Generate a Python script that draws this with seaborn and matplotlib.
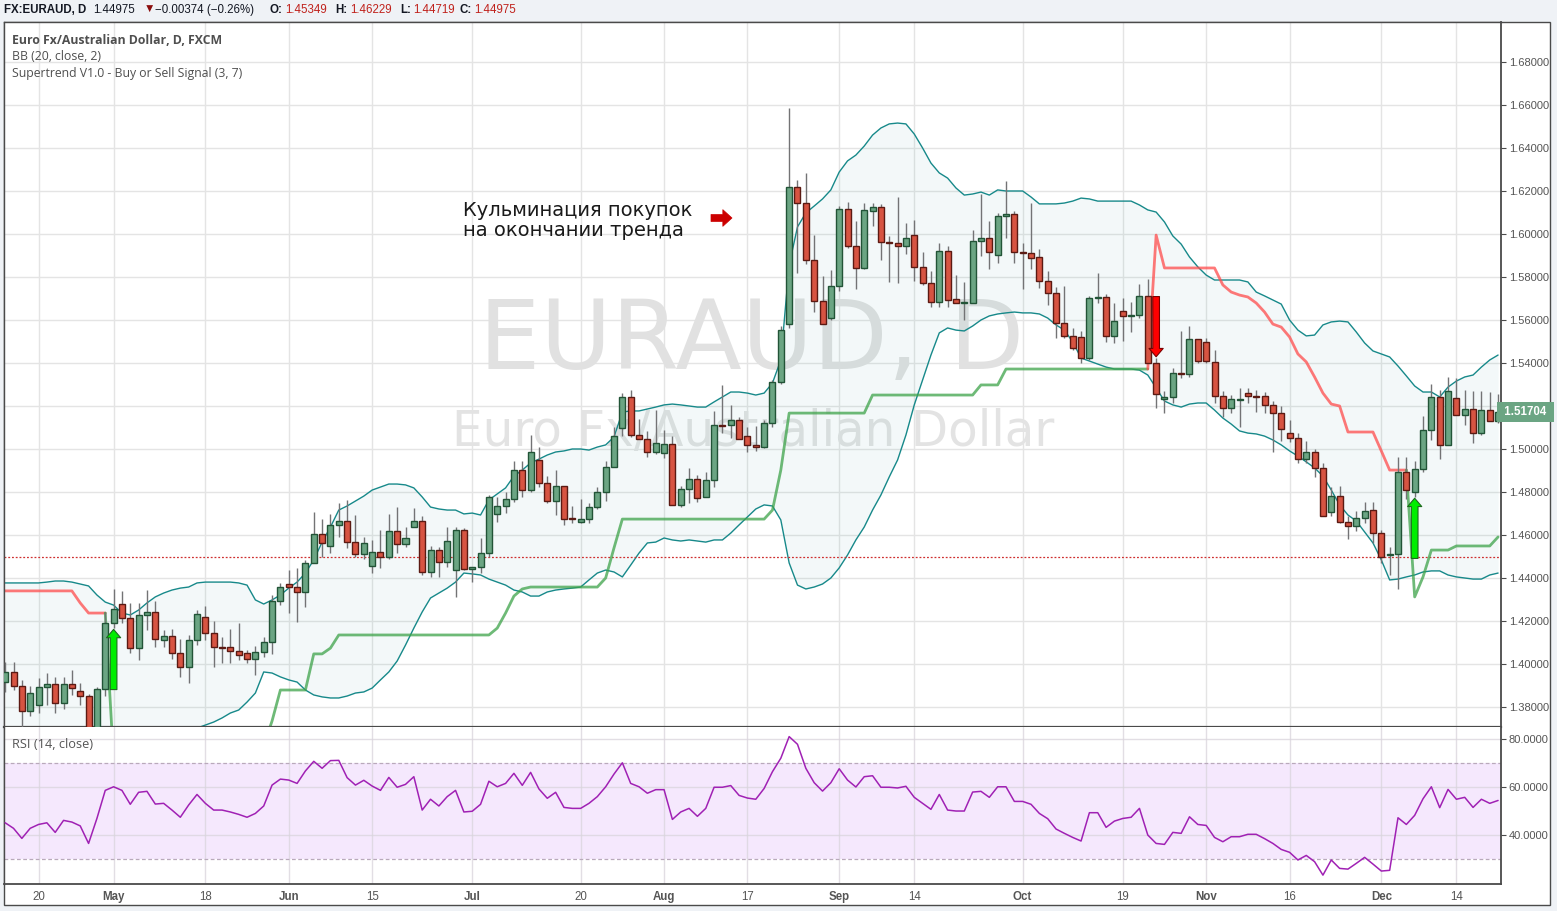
import matplotlib
matplotlib.use("Agg")
import matplotlib.pyplot as plt
import matplotlib.transforms as mtransforms
from matplotlib.patches import Rectangle, FancyArrowPatch
import numpy as np
import pandas as pd
import seaborn as sns

W, H = 1557, 911

# ---------------------------------------------------------------- data
# one daily bar per weekday, 14 Apr 2015 .. 21 Dec 2015 (bar index 0..179)
tick_idx = [4, 13, 24, 34, 44, 56, 69, 79, 89, 100, 109, 122, 134, 144, 154, 165, 174]
tick_labels = ["20", "May", "18", "Jun", "15", "Jul", "20", "Aug", "17", "Sep",
               "14", "Oct", "19", "Nov", "16", "Dec", "14"]
month_labels = ["May", "Jun", "Jul", "Aug", "Sep", "Oct", "Nov", "Dec"]

open_ = [
    1.3916, 1.3963, 1.3898, 1.3781, 1.3809, 1.3893, 1.3907, 1.3819, 1.3907, 1.3874,
    1.3851, 1.3660, 1.3884, 1.4191, 1.4279, 1.4214, 1.4074, 1.4228, 1.4242, 1.4112,
    1.4130, 1.4051, 1.3986, 1.4112, 1.4219, 1.4144, 1.4079, 1.4079, 1.4060, 1.4051,
    1.4023, 1.4056, 1.4102, 1.4293, 1.4372, 1.4358, 1.4335, 1.4470, 1.4605, 1.4549,
    1.4647, 1.4665, 1.4567, 1.4512, 1.4456, 1.4521, 1.4498, 1.4619, 1.4558, 1.4637,
    1.4665, 1.4428, 1.4530, 1.4474, 1.4437, 1.4623, 1.4442, 1.4451, 1.4516, 1.4698,
    1.4735, 1.4767, 1.4902, 1.4809, 1.4949, 1.4842, 1.4758, 1.4828, 1.4679, 1.4660,
    1.4674, 1.4730, 1.4800, 1.4916, 1.5098, 1.5242, 1.5065, 1.5047, 1.4986, 1.4981,
    1.5023, 1.4740, 1.4814, 1.4860, 1.4777, 1.4856, 1.5112, 1.5112, 1.5135, 1.5060,
    1.5019, 1.5009, 1.5121, 1.5312, 1.5581, 1.6219, 1.6144, 1.5879, 1.5688, 1.5609,
    1.5758, 1.6116, 1.5944, 1.5842, 1.6107, 1.6126, 1.5963, 1.5958, 1.5944, 1.5995,
    1.5847, 1.5772, 1.5684, 1.5921, 1.5698, 1.5679, 1.5679, 1.5967, 1.5981, 1.5902,
    1.6084, 1.6093, 1.5916, 1.5912, 1.5893, 1.5781, 1.5726, 1.5586, 1.5526, 1.5521,
    1.5423, 1.5702, 1.5707, 1.5526, 1.5642, 1.5619, 1.5623, 1.5712, 1.5400, 1.5233,
    1.5242, 1.5353, 1.5349, 1.5512, 1.5498, 1.5405, 1.5247, 1.5191, 1.5228, 1.5260,
    1.5247, 1.5247, 1.5205, 1.5167, 1.5074, 1.5051, 1.4953, 1.4986, 1.4912, 1.4707,
    1.4781, 1.4660, 1.4642, 1.4679, 1.4716, 1.4609, 1.4507, 1.4512, 1.4893, 1.4800,
    1.4907, 1.5088, 1.5242, 1.5019, 1.5237, 1.5158, 1.5186, 1.5074, 1.5181, 1.5130,
]
high = [
    1.4009, 1.4009, 1.3926, 1.3898, 1.3935, 1.3958, 1.3940, 1.3940, 1.3972, 1.3912,
    1.3860, 1.3893, 1.4242, 1.4349, 1.4340, 1.4284, 1.4284, 1.4344, 1.4293, 1.4158,
    1.4163, 1.4116, 1.4135, 1.4251, 1.4270, 1.4200, 1.4126, 1.4163, 1.4191, 1.4065,
    1.4084, 1.4126, 1.4321, 1.4377, 1.4437, 1.4446, 1.4484, 1.4707, 1.4674, 1.4698,
    1.4749, 1.4763, 1.4693, 1.4591, 1.4577, 1.4623, 1.4698, 1.4730, 1.4637, 1.4726,
    1.4688, 1.4549, 1.4544, 1.4637, 1.4637, 1.4633, 1.4451, 1.4586, 1.4786, 1.4777,
    1.4800, 1.4944, 1.4944, 1.5065, 1.5009, 1.4874, 1.4902, 1.4828, 1.4735, 1.4767,
    1.4749, 1.4823, 1.4944, 1.5102, 1.5260, 1.5274, 1.5140, 1.5084, 1.5181, 1.5088,
    1.5060, 1.4828, 1.4912, 1.4879, 1.4893, 1.5177, 1.5298, 1.5205, 1.5149, 1.5102,
    1.5107, 1.5135, 1.5321, 1.5572, 1.6586, 1.6251, 1.6284, 1.5995, 1.5805, 1.5833,
    1.6130, 1.6149, 1.6060, 1.6144, 1.6144, 1.6140, 1.5991, 1.6172, 1.6051, 1.6065,
    1.5916, 1.5828, 1.5958, 1.5944, 1.5809, 1.5777, 1.6019, 1.6186, 1.6060, 1.6098,
    1.6247, 1.6107, 1.5958, 1.6144, 1.5930, 1.5828, 1.5753, 1.5758, 1.5563, 1.5549,
    1.5712, 1.5819, 1.5721, 1.5679, 1.5702, 1.5684, 1.5767, 1.5791, 1.5423, 1.5270,
    1.5377, 1.5549, 1.5572, 1.5512, 1.5516, 1.5460, 1.5270, 1.5251, 1.5284, 1.5284,
    1.5274, 1.5265, 1.5223, 1.5200, 1.5135, 1.5074, 1.5037, 1.5000, 1.4935, 1.4823,
    1.4828, 1.4688, 1.4712, 1.4753, 1.4753, 1.4623, 1.4544, 1.4963, 1.4963, 1.4944,
    1.5153, 1.5302, 1.5274, 1.5335, 1.5330, 1.5274, 1.5270, 1.5270, 1.5265, 1.5256,
]
low = [
    1.3870, 1.3879, 1.3705, 1.3758, 1.3772, 1.3809, 1.3772, 1.3791, 1.3856, 1.3809,
    1.3600, 1.3620, 1.3851, 1.4167, 1.4191, 1.4051, 1.4019, 1.4158, 1.4079, 1.4079,
    1.4023, 1.3940, 1.3912, 1.4088, 1.4112, 1.3986, 1.4005, 1.4005, 1.4019, 1.4005,
    1.3949, 1.4033, 1.4047, 1.4274, 1.4237, 1.4195, 1.4265, 1.4470, 1.4498, 1.4516,
    1.4591, 1.4540, 1.4498, 1.4488, 1.4423, 1.4447, 1.4488, 1.4516, 1.4544, 1.4637,
    1.4414, 1.4405, 1.4405, 1.4451, 1.4312, 1.4437, 1.4381, 1.4423, 1.4498, 1.4660,
    1.4702, 1.4753, 1.4777, 1.4800, 1.4823, 1.4749, 1.4693, 1.4647, 1.4656, 1.4656,
    1.4656, 1.4721, 1.4758, 1.4916, 1.5060, 1.5056, 1.5047, 1.4963, 1.4977, 1.4958,
    1.4740, 1.4730, 1.4749, 1.4753, 1.4777, 1.4823, 1.5074, 1.5051, 1.5047, 1.4986,
    1.4991, 1.5005, 1.5102, 1.5302, 1.5563, 1.5819, 1.5860, 1.5637, 1.5581, 1.5600,
    1.5735, 1.5935, 1.5744, 1.5837, 1.6037, 1.5879, 1.5777, 1.5772, 1.5907, 1.5781,
    1.5763, 1.5660, 1.5660, 1.5660, 1.5679, 1.5600, 1.5679, 1.5898, 1.5837, 1.5865,
    1.5981, 1.5865, 1.5744, 1.5837, 1.5749, 1.5670, 1.5516, 1.5516, 1.5460, 1.5400,
    1.5414, 1.5679, 1.5498, 1.5493, 1.5502, 1.5544, 1.5609, 1.5400, 1.5191, 1.5167,
    1.5214, 1.5330, 1.5335, 1.5400, 1.5400, 1.5214, 1.5149, 1.5167, 1.5100, 1.5214,
    1.5172, 1.5167, 1.4986, 1.5037, 1.5033, 1.4935, 1.4935, 1.4870, 1.4688, 1.4688,
    1.4656, 1.4581, 1.4619, 1.4656, 1.4563, 1.4472, 1.4414, 1.4349, 1.4767, 1.4777,
    1.4893, 1.5042, 1.4953, 1.5019, 1.5158, 1.5112, 1.5028, 1.5065, 1.5130, 1.5121,
]
close = [
    1.3963, 1.3898, 1.3781, 1.3865, 1.3893, 1.3907, 1.3819, 1.3907, 1.3888, 1.3851,
    1.3650, 1.3884, 1.4191, 1.4256, 1.4214, 1.4074, 1.4228, 1.4242, 1.4116, 1.4130,
    1.4051, 1.3986, 1.4112, 1.4233, 1.4144, 1.4079, 1.4074, 1.4060, 1.4042, 1.4023,
    1.4056, 1.4102, 1.4293, 1.4358, 1.4358, 1.4335, 1.4470, 1.4605, 1.4563, 1.4647,
    1.4665, 1.4567, 1.4512, 1.4563, 1.4521, 1.4498, 1.4619, 1.4558, 1.4586, 1.4665,
    1.4428, 1.4530, 1.4474, 1.4572, 1.4623, 1.4442, 1.4451, 1.4516, 1.4777, 1.4735,
    1.4767, 1.4902, 1.4809, 1.4986, 1.4842, 1.4758, 1.4828, 1.4674, 1.4674, 1.4674,
    1.4730, 1.4800, 1.4916, 1.5060, 1.5242, 1.5065, 1.5047, 1.4986, 1.5028, 1.5023,
    1.4740, 1.4814, 1.4860, 1.4772, 1.4856, 1.5112, 1.5107, 1.5135, 1.5047, 1.5019,
    1.5009, 1.5121, 1.5312, 1.5553, 1.6219, 1.6144, 1.5879, 1.5688, 1.5581, 1.5758,
    1.6116, 1.5944, 1.5842, 1.6112, 1.6126, 1.5963, 1.5958, 1.5944, 1.5981, 1.5847,
    1.5772, 1.5684, 1.5921, 1.5693, 1.5679, 1.5684, 1.5967, 1.5981, 1.5916, 1.6084,
    1.6093, 1.5916, 1.5912, 1.5888, 1.5781, 1.5726, 1.5586, 1.5526, 1.5470, 1.5423,
    1.5702, 1.5707, 1.5526, 1.5595, 1.5619, 1.5623, 1.5712, 1.5400, 1.5256, 1.5242,
    1.5353, 1.5349, 1.5512, 1.5409, 1.5409, 1.5247, 1.5191, 1.5233, 1.5233, 1.5247,
    1.5242, 1.5205, 1.5167, 1.5093, 1.5051, 1.4953, 1.4986, 1.4912, 1.4688, 1.4781,
    1.4660, 1.4642, 1.4679, 1.4712, 1.4609, 1.44975, 1.4512, 1.4893, 1.4809, 1.4907,
    1.5088, 1.5242, 1.5019, 1.5270, 1.5158, 1.5186, 1.5074, 1.5181, 1.5130, 1.51704,
]

# Bollinger Bands (20, close, 2) as drawn
bb_upper = [
    1.4377, 1.4377, 1.4377, 1.4377, 1.4377, 1.4381, 1.4386, 1.4386, 1.4381, 1.4372,
    1.4363, 1.4321, 1.4288, 1.4274, 1.4237, 1.4228, 1.4251, 1.4284, 1.4312, 1.4330,
    1.4344, 1.4353, 1.4358, 1.4377, 1.4381, 1.4381, 1.4381, 1.4381, 1.4377, 1.4367,
    1.4298, 1.4279, 1.4298, 1.4321, 1.4353, 1.4381, 1.4423, 1.4484, 1.4567, 1.4637,
    1.4716, 1.4735, 1.4758, 1.4781, 1.4809, 1.4823, 1.4837, 1.4837, 1.4833, 1.4819,
    1.4777, 1.4730, 1.4721, 1.4716, 1.4716, 1.4698, 1.4702, 1.4693, 1.4763, 1.4791,
    1.4819, 1.4874, 1.4902, 1.4935, 1.4953, 1.4972, 1.4986, 1.4991, 1.5000, 1.5000,
    1.4995, 1.5009, 1.5019, 1.5056, 1.5172, 1.5177, 1.5177, 1.5186, 1.5195, 1.5205,
    1.5209, 1.5205, 1.5200, 1.5195, 1.5195, 1.5219, 1.5242, 1.5265, 1.5265, 1.5260,
    1.5251, 1.5260, 1.5307, 1.5414, 1.5856, 1.6033, 1.6098, 1.6130, 1.6163, 1.6205,
    1.6288, 1.6340, 1.6367, 1.6409, 1.6460, 1.6493, 1.6512, 1.6516, 1.6512, 1.6465,
    1.6400, 1.6330, 1.6284, 1.6260, 1.6214, 1.6181, 1.6186, 1.6195, 1.6181, 1.6205,
    1.6200, 1.6200, 1.6200, 1.6172, 1.6140, 1.6140, 1.6140, 1.6144, 1.6153, 1.6167,
    1.6163, 1.6153, 1.6153, 1.6153, 1.6153, 1.6153, 1.6135, 1.6112, 1.6102, 1.6056,
    1.5991, 1.5953, 1.5893, 1.5847, 1.5809, 1.5786, 1.5786, 1.5786, 1.5786, 1.5777,
    1.5730, 1.5712, 1.5693, 1.5674, 1.5600, 1.5553, 1.5526, 1.5530, 1.5577, 1.5591,
    1.5595, 1.5591, 1.5544, 1.5493, 1.5456, 1.5442, 1.5428, 1.5386, 1.5340, 1.5293,
    1.5265, 1.5265, 1.5242, 1.5288, 1.5316, 1.5335, 1.5344, 1.5381, 1.5414, 1.5437,
]
bb_lower = [
    1.3620, 1.3610, 1.3590, 1.3570, 1.3560, 1.3550, 1.3545, 1.3540, 1.3540, 1.3530,
    1.3490, 1.3470, 1.3480, 1.3500, 1.3530, 1.3560, 1.3580, 1.3600, 1.3620, 1.3640,
    1.3660, 1.3670, 1.3690, 1.3702, 1.3716, 1.3730, 1.3749, 1.3772, 1.3786, 1.3823,
    1.3865, 1.3963, 1.3958, 1.3940, 1.3926, 1.3916, 1.3879, 1.3856, 1.3847, 1.3842,
    1.3842, 1.3851, 1.3865, 1.3870, 1.3888, 1.3926, 1.3963, 1.4014, 1.4088, 1.4167,
    1.4242, 1.4307, 1.4330, 1.4353, 1.4381, 1.4423, 1.4419, 1.4414, 1.4395, 1.4381,
    1.4367, 1.4344, 1.4335, 1.4316, 1.4316, 1.4335, 1.4344, 1.4349, 1.4353, 1.4358,
    1.4391, 1.4423, 1.4437, 1.4428, 1.4405, 1.4460, 1.4516, 1.4563, 1.4567, 1.4586,
    1.4577, 1.4572, 1.4577, 1.4572, 1.4567, 1.4577, 1.4577, 1.4609, 1.4647, 1.4684,
    1.4721, 1.4740, 1.4735, 1.4670, 1.4470, 1.4367, 1.4349, 1.4358, 1.4372, 1.4400,
    1.4447, 1.4507, 1.4577, 1.4637, 1.4716, 1.4786, 1.4870, 1.4949, 1.5065, 1.5205,
    1.5321, 1.5437, 1.5540, 1.5563, 1.5553, 1.5549, 1.5572, 1.5600, 1.5619, 1.5628,
    1.5633, 1.5637, 1.5633, 1.5633, 1.5628, 1.5609, 1.5577, 1.5553, 1.5498, 1.5423,
    1.5409, 1.5395, 1.5381, 1.5372, 1.5372, 1.5372, 1.5367, 1.5344, 1.5284, 1.5223,
    1.5205, 1.5195, 1.5209, 1.5214, 1.5214, 1.5181, 1.5144, 1.5116, 1.5084, 1.5074,
    1.5070, 1.5060, 1.5042, 1.5019, 1.4991, 1.4967, 1.4940, 1.4912, 1.4874, 1.4809,
    1.4740, 1.4693, 1.4665, 1.4614, 1.4563, 1.4484, 1.4391, 1.4395, 1.4405, 1.4414,
    1.4428, 1.4433, 1.4433, 1.4414, 1.4405, 1.4400, 1.4395, 1.4395, 1.4414, 1.4423,
]

# Supertrend (3, 7): stop level and direction (1 = up / green, -1 = down / red)
st_value = (
    [1.4340] * 9 + [1.4284] + [1.4237] * 3
    + [1.3550] * 6 + [1.3570] * 7 + [1.3590] * 5 + [1.3620, 1.3735]
    + [1.3879] * 4 + [1.4047] * 2 + [1.4074] + [1.4135] * 19
    + [1.4167, 1.4237, 1.4316, 1.4349] + [1.4358] * 9 + [1.4400, 1.4540]
    + [1.4674] * 18 + [1.4716, 1.4902] + [1.5167] * 10 + [1.5251] * 13
    + [1.5298] * 3 + [1.5372] * 18
    + [1.5995] + [1.5842] * 7
    + [1.5763, 1.5730, 1.5716, 1.5707, 1.5679, 1.5637, 1.5581, 1.5567,
       1.5521, 1.5442, 1.5405, 1.5335, 1.5260, 1.5209, 1.5200]
    + [1.5079] * 4 + [1.4991] + [1.4902] * 3
    + [1.4312, 1.4405] + [1.4530] * 3 + [1.4549] * 5 + [1.4591]
)
st_dir = [-1] * 13 + [1] * 125 + [-1] * 31 + [1] * 11
buy_signals = [13, 169]
sell_signals = [138]

# RSI (14, close)
rsi = [
    45.1, 42.8, 38.6, 42.8, 44.4, 45.1, 41.1, 46.1, 45.4, 43.8,
    36.5, 46.9, 58.6, 60.1, 58.6, 52.8, 57.8, 58.2, 52.9, 53.2,
    50.4, 47.4, 52.5, 56.9, 53.2, 50.4, 50.4, 49.6, 48.6, 47.4,
    49.0, 52.1, 60.8, 63.3, 62.9, 61.5, 66.7, 70.7, 67.8, 71.0,
    71.1, 63.9, 60.8, 62.8, 60.4, 58.6, 64.0, 59.9, 61.1, 64.3,
    50.4, 54.9, 52.1, 56.0, 58.6, 49.6, 49.9, 52.8, 62.4, 60.1,
    61.5, 65.7, 60.7, 66.1, 59.2, 55.3, 57.8, 51.5, 51.1, 51.1,
    53.2, 56.0, 60.1, 65.4, 70.1, 61.5, 60.1, 57.4, 58.9, 58.9,
    46.5, 49.6, 51.1, 47.8, 51.1, 59.9, 59.9, 60.6, 56.5, 55.4,
    54.9, 59.4, 66.4, 72.0, 81.0, 77.8, 67.8, 61.8, 58.3, 61.8,
    67.6, 62.9, 60.0, 64.3, 64.7, 59.9, 59.9, 59.6, 60.3, 55.7,
    53.2, 50.7, 56.9, 50.4, 50.0, 50.0, 57.9, 58.2, 55.7, 60.1,
    60.1, 54.0, 54.0, 52.8, 49.0, 46.8, 42.5, 40.7, 39.0, 37.5,
    49.3, 49.3, 43.2, 45.8, 46.9, 47.4, 51.1, 40.0, 36.5, 36.1,
    41.1, 40.7, 47.6, 44.4, 44.0, 39.0, 37.2, 39.3, 39.3, 40.3,
    40.3, 38.5, 36.5, 34.0, 32.8, 29.6, 31.5, 28.9, 23.3, 29.6,
    26.1, 25.8, 28.2, 30.7, 27.9, 25.0, 25.3, 47.2, 44.4, 48.2,
    55.1, 60.1, 51.4, 59.0, 54.9, 55.7, 51.5, 54.9, 53.2, 54.4,
]

price_ticks = [1.38, 1.40, 1.42, 1.44, 1.46, 1.48, 1.50, 1.52, 1.54,
               1.56, 1.58, 1.60, 1.62, 1.64, 1.66, 1.68]
rsi_ticks = [40, 60, 80]
rsi_bands = [30, 70]
last_price = 1.51704
marker_price = 1.44975

header_pieces = [
    ("FX:EURAUD, D", "#131722", "bold", 4),
    ("1.44975", "#131722", "normal", 93),
    ("\u25bc", "#8b0d0d", "normal", 144),
    ("\u22120.00374 (\u22120.26%)", "#131722", "normal", 155),
    ("O:", "#131722", "bold", 270),
    ("1.45349", "#c0221c", "normal", 285),
    ("H:", "#131722", "bold", 335),
    ("1.46229", "#c0221c", "normal", 350),
    ("L:", "#131722", "bold", 400),
    ("1.44719", "#c0221c", "normal", 413),
    ("C:", "#131722", "bold", 460),
    ("1.44975", "#c0221c", "normal", 474),
]
legend_lines = ["Euro Fx/Australian Dollar, D, FXCM", "BB (20, close, 2)",
                "Supertrend V1.0 - Buy or Sell Signal (3, 7)"]
note_lines = ["Кульминация покупок", "на окончании тренда"]

# ---------------------------------------------------------------- style
UP, UP_EDGE = "#6ba583", "#225437"
DN, DN_EDGE = "#d75442", "#5b1a13"
WICK = "#737375"
BB_COL = "#17898a"
GRID = "#e4e4e4"
AXIS = "#4a4a4a"
BG = "#eff2f6"

sns.set_theme(style="white")
plt.rcParams["font.family"] = ["Liberation Sans", "DejaVu Sans"]

df = pd.DataFrame({"idx": np.arange(len(close)), "open": open_, "high": high,
                   "low": low, "close": close, "bb_upper": bb_upper,
                   "bb_lower": bb_lower, "st": st_value, "dir": st_dir, "rsi": rsi})


def fx(x):
    return x / W


def fy(y):
    return 1 - y / H


fig = plt.figure(figsize=(W / 100, H / 100), dpi=100, facecolor=BG)
renderer = fig.canvas.get_renderer()

# white chart card with a dark frame
fig.add_artist(Rectangle((fx(4), fy(905)), fx(1550 - 4), (905 - 22) / H,
                         transform=fig.transFigure, fc="white", ec=AXIS, lw=1, zorder=-5))

ax = fig.add_axes([fx(4), fy(727), fx(1501 - 4), (727 - 22) / H])
ax2 = fig.add_axes([fx(4), fy(884), fx(1501 - 4), (884 - 727) / H], sharex=ax)

x_lo, x_hi = -0.14, 179.35
ax.set_xlim(x_lo, x_hi)
ax.set_ylim(1.3707, 1.6986)

# ---------------------------------------------------------------- main panel
for sp in ax.spines.values():
    sp.set_color(AXIS)
    sp.set_linewidth(1)
ax.spines["bottom"].set_linewidth(1.6)
ax.spines["right"].set_linewidth(1.3)
ax.set_axisbelow(True)
ax.grid(True, color=GRID, lw=1)
ax.set_xticks(tick_idx)
ax.tick_params(axis="x", length=0, labelbottom=False)
ax.yaxis.tick_right()
ax.set_yticks(price_ticks)
ax.set_yticklabels([f"{v:.5f}" for v in price_ticks])
ax.tick_params(axis="y", direction="out", length=3.5, width=0.8, color=AXIS,
               labelsize=8, labelcolor="#555555", pad=2)

# watermark
wm1 = ax.text(fx(752), fy(343), "EURAUD, D", transform=fig.transFigure,
              ha="center", va="center", color="#e1e1e1", fontsize=72,
              family=["DejaVu Sans"], zorder=0.6)
wm2 = ax.text(fx(753), fy(432), "Euro Fx/Australian Dollar", transform=fig.transFigure,
              ha="center", va="center", color="#e3e3e3", fontsize=40,
              family=["DejaVu Sans"], zorder=0.6)
for t, target in ((wm1, 545), (wm2, 603)):
    w = t.get_window_extent(renderer=renderer).width
    t.set_fontsize(t.get_fontsize() * target / w)

# Bollinger bands
ax.fill_between(df["idx"], df["bb_lower"], df["bb_upper"], color=BB_COL,
                alpha=0.05, lw=0, zorder=1)
sns.lineplot(data=df, x="idx", y="bb_upper", ax=ax, color=BB_COL, lw=1.0, zorder=2)
sns.lineplot(data=df, x="idx", y="bb_lower", ax=ax, color=BB_COL, lw=1.0, zorder=2)

# Supertrend, one polyline per run of the same direction
st_colors = {1: "#3ea34a", -1: "#ff4c4c"}
start = 0
for k in range(1, len(st_dir) + 1):
    if k == len(st_dir) or st_dir[k] != st_dir[start]:
        a = max(start - 1, 0)
        seg = df.iloc[a:k]
        ax.plot(seg["idx"], seg["st"], color=st_colors[st_dir[start]], lw=2.0,
                alpha=0.75, zorder=2.5, solid_joinstyle="round")
        start = k

# dotted marker line
ax.axhline(marker_price, color="#cf2f2f", lw=0.9, ls=(0, (1.5, 1.5)), zorder=2.2)

# candles
up = df["close"] >= df["open"]
ax.vlines(df["idx"], df["low"], df["high"], color=WICK, lw=1.0, zorder=3)
body_lo = np.minimum(df["open"], df["close"])
body_h = np.maximum(np.abs(df["close"] - df["open"]), 0.0004)
ax.bar(df["idx"], body_h, bottom=body_lo, width=0.72,
       color=np.where(up, UP, DN), edgecolor=np.where(up, UP_EDGE, DN_EDGE),
       linewidth=1.0, zorder=4)

# buy / sell arrows
arrow_len = 0.028
for i, tip, base, fc, ec in (
        [(i, low[i] - 0.0006, low[i] - 0.0006 - arrow_len, "#00ee00", "#1d6b1d") for i in buy_signals]
        + [(i, high[i] + 0.0006, high[i] + 0.0006 + arrow_len, "#ff0000", "#7a0000") for i in sell_signals]):
    ax.annotate("", xy=(i, tip), xytext=(i, base),
                arrowprops=dict(arrowstyle="simple,head_length=0.5,head_width=0.85,tail_width=0.4",
                                fc=fc, ec=ec, lw=0.8, shrinkA=0, shrinkB=0),
                zorder=5)

# last price tag on the price scale (covers the 1.52 label like the original)
ax.text(1.0, last_price, f" {last_price:.5f} ",
        transform=mtransforms.blended_transform_factory(ax.transAxes, ax.transData),
        ha="left", va="center", color="white", fontsize=8.3, weight="bold",
        bbox=dict(boxstyle="square,pad=0.35", fc=UP, ec="none"), zorder=10, clip_on=False)
ax.set_xlabel("")
ax.set_ylabel("")

# ---------------------------------------------------------------- RSI panel
ax2.set_ylim(19.6, 85.0)
for name, sp in ax2.spines.items():
    sp.set_color(AXIS)
    sp.set_linewidth(1)
ax2.spines["top"].set_visible(False)
ax2.spines["bottom"].set_linewidth(1.3)
ax2.spines["right"].set_linewidth(1.3)
ax2.set_axisbelow(True)
ax2.axhspan(rsi_bands[0], rsi_bands[1], color="#f5e8fd", lw=0, zorder=0.2)
ax2.grid(True, color="#d9d4dc", lw=1, alpha=0.75)
for lvl in rsi_bands:
    ax2.axhline(lvl, color="#b9a9bb", lw=0.9, ls=(0, (3, 2)), zorder=1)
sns.lineplot(data=df, x="idx", y="rsi", ax=ax2, color="#a021b4", lw=1.1, zorder=3)
ax2.yaxis.tick_right()
ax2.set_yticks(rsi_ticks)
ax2.set_yticklabels([f"{v:.4f}" for v in rsi_ticks])
ax2.tick_params(axis="y", direction="out", length=3.5, width=0.8, color=AXIS,
                labelsize=8, labelcolor="#555555", pad=2)
ax2.set_xticks(tick_idx)
ax2.set_xticklabels(tick_labels)
ax2.tick_params(axis="x", length=0, labelsize=8.3, labelcolor="#555555", pad=5)
for lab in ax2.get_xticklabels():
    if lab.get_text() in month_labels:
        lab.set_fontweight("bold")
ax2.set_xlim(x_lo, x_hi)
ax2.set_xlabel("")
ax2.set_ylabel("")

rsi_lab = fig.text(fx(12), fy(745), "RSI (14, close)", color="#555555",
                   fontsize=8.5, family=["Open Sans", "DejaVu Sans"], va="center")
rsi_lab.set_fontsize(rsi_lab.get_fontsize() * 80 / rsi_lab.get_window_extent(renderer=renderer).width)

# ---------------------------------------------------------------- texts
# header line
hdr = [fig.text(fx(x), fy(10), s, color=c, weight=wt, fontsize=9, va="center",
                family=["Liberation Sans", "DejaVu Sans"]) for s, c, wt, x in header_pieces]
scale = 83 / hdr[0].get_window_extent(renderer=renderer).width
for t in hdr:
    t.set_fontsize(t.get_fontsize() * scale)

# indicator legend
leg = []
for k, line in enumerate(legend_lines):
    leg.append(fig.text(fx(12), fy(40 + 17 * k), line, color="#4f4f4f",
                        weight="bold" if k == 0 else "normal", fontsize=9,
                        va="center", family=["Open Sans", "DejaVu Sans"]))
scale = 232 / leg[2].get_window_extent(renderer=renderer).width
for t in leg:
    t.set_fontsize(t.get_fontsize() * scale)

# annotation with a heavy red pointer
notes = [fig.text(fx(463), fy(211 + 20 * k), s, color="#1a1a1a", fontsize=14,
                  va="center", family=["DejaVu Sans"]) for k, s in enumerate(note_lines)]
scale = 230 / notes[0].get_window_extent(renderer=renderer).width
for t in notes:
    t.set_fontsize(t.get_fontsize() * scale)
fig.add_artist(FancyArrowPatch(
    (fx(711), fy(218)), (fx(732), fy(218)), transform=fig.transFigure,
    arrowstyle="simple,head_length=0.55,head_width=1.0,tail_width=0.42",
    mutation_scale=12, fc="#cc0000", ec="#cc0000", lw=0.5, shrinkA=0, shrinkB=0))

fig.savefig("out.png", dpi=100, facecolor=fig.get_facecolor())
